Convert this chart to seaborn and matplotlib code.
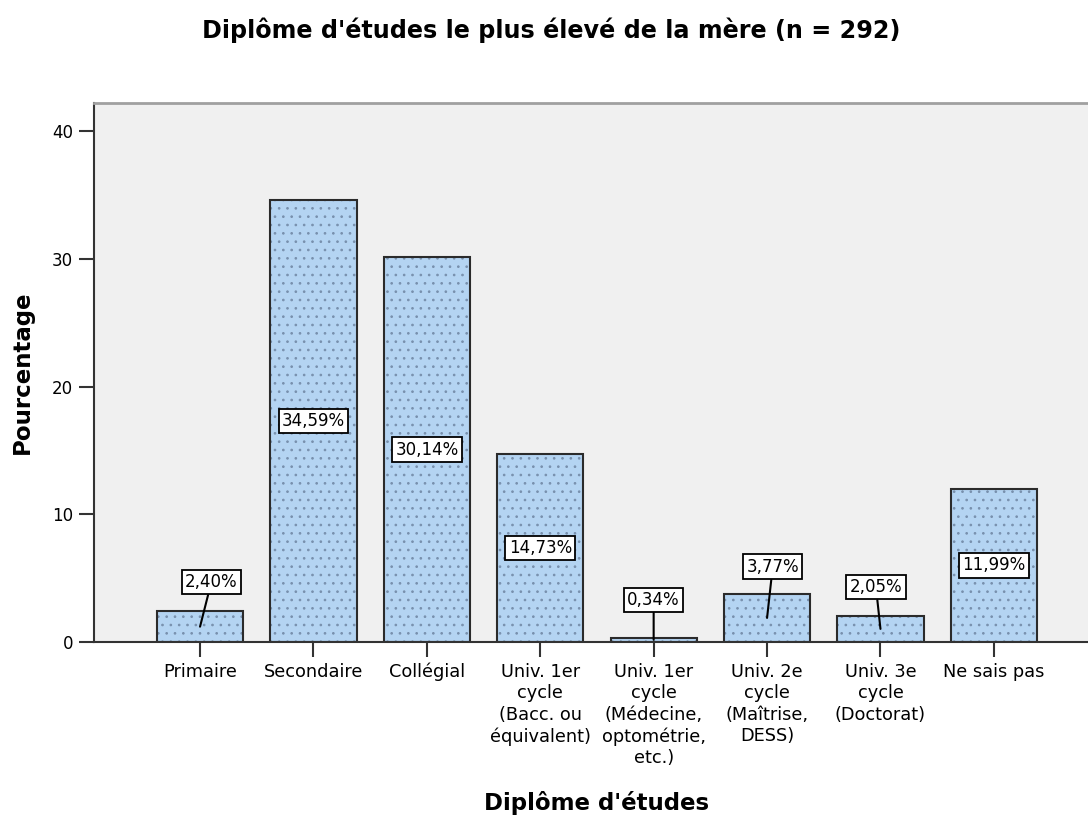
import numpy as np
import pandas as pd
import matplotlib
matplotlib.use("Agg")
import matplotlib.pyplot as plt
import seaborn as sns

# Data
categories = [
    "Primaire",
    "Secondaire",
    "Collégial",
    "Univ. 1er\ncycle\n(Bacc. ou\néquivalent)",
    "Univ. 1er\ncycle\n(Médecine,\noptométrie,\netc.)",
    "Univ. 2e\ncycle\n(Maîtrise,\nDESS)",
    "Univ. 3e\ncycle\n(Doctorat)",
    "Ne sais pas",
]
percentages = [2.40, 34.59, 30.14, 14.73, 0.34, 3.77, 2.05, 11.99]
y_ticks = [0, 10, 20, 30, 40]

TITLE = "Diplôme d'études le plus élevé de la mère (n = 292)"
XLABEL = "Diplôme d'études"
YLABEL = "Pourcentage"

BAR_COLOR = "#b4d4f2"
HATCH_COLOR = "#7890ad"
EDGE_COLOR = "#2b2b2b"
BG_COLOR = "#f0f0f0"

sns.set_theme(style="white")
plt.rcParams['font.family'] = ['DejaVu Sans']
plt.rcParams['text.color'] = 'black'
plt.rcParams['xtick.color'] = 'black'
plt.rcParams['ytick.color'] = 'black'
plt.rcParams['hatch.linewidth'] = 0.7

df = pd.DataFrame({"cat": categories, "pct": percentages})

fig = plt.figure(figsize=(10.88, 8.15), dpi=100)
ax = fig.add_axes([94 / 1088, (815 - 642) / 815, (1088 - 94) / 1088, (642 - 103) / 815])
ax.set_facecolor(BG_COLOR)

# fill + dotted pattern (pattern takes the edge colour), then the dark outline on top
sns.barplot(data=df, x="cat", y="pct", color=BAR_COLOR, saturation=1,
            width=0.76, edgecolor=HATCH_COLOR, linewidth=0, ax=ax)
for p in ax.patches:
    p.set_hatch('..')
    p.set_facecolor(BAR_COLOR)
sns.barplot(data=df, x="cat", y="pct", fill=False, saturation=1,
            width=0.76, edgecolor=EDGE_COLOR, linewidth=1.5, ax=ax)

ax.set_xlim(-0.935, 7.83)
ax.set_ylim(0, 42.2)
ax.set_yticks(y_ticks)
ax.set_xlabel("")
ax.set_ylabel("")
ax.tick_params(axis='both', which='major', length=11, width=1.5, color='#333333',
               labelsize=12, left=True, bottom=True, pad=4)
ax.tick_params(axis='x', labelsize=12.8)
for lbl in ax.get_xticklabels():
    lbl.set_linespacing(1.25)
    lbl.set_verticalalignment('top')

for side in ['left', 'bottom']:
    ax.spines[side].set_color('#333333')
    ax.spines[side].set_linewidth(1.5)
ax.spines['top'].set_color('#a0a0a0')
ax.spines['top'].set_linewidth(2)
ax.spines['right'].set_visible(False)

# value labels: inside at mid-height for tall bars, callout above for short ones
callouts = {0: (0.10, 4.7), 4: (0.0, 3.3), 5: (0.05, 5.9), 6: (-0.04, 4.3)}
bbox = dict(boxstyle='square,pad=0.2', fc='white', ec='black', lw=1.3)
for i, v in enumerate(percentages):
    txt = f"{v:.2f}%".replace('.', ',')
    if i in callouts:
        dx, ty = callouts[i]
        ax.annotate(txt, xy=(i, v / 2), xytext=(i + dx, ty), ha='center', va='center',
                    fontsize=12, bbox=bbox,
                    arrowprops=dict(arrowstyle='-', color='black', lw=1.5,
                                    shrinkA=0, shrinkB=0))
    else:
        ax.text(i, v / 2, txt, ha='center', va='center', fontsize=12, bbox=bbox)

fig.text(551 / 1088, 1 - 30 / 815, TITLE, ha='center', va='center',
         fontsize=17.2, fontweight='bold')
fig.text(597 / 1088, 1 - 803 / 815, XLABEL, ha='center', va='center',
         fontsize=16.5, fontweight='bold')
fig.text(22 / 1088, 1 - 372 / 815, YLABEL, ha='center', va='center', rotation=90,
         fontsize=16.5, fontweight='bold')

fig.savefig("out.png", dpi=100, facecolor='white')
